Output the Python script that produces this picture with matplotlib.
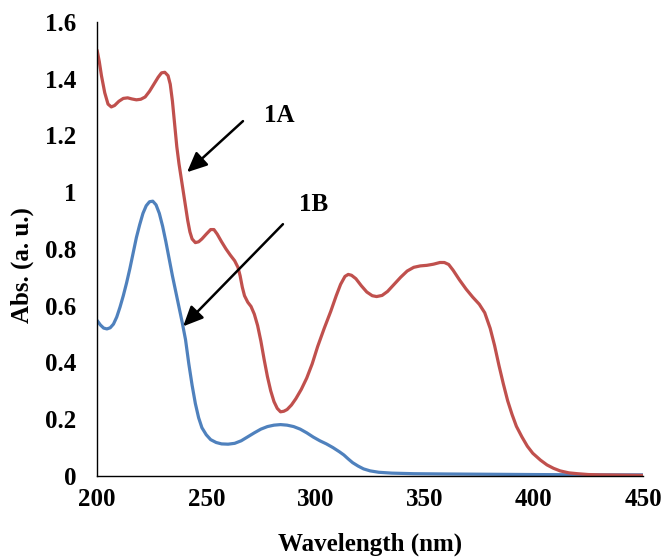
import matplotlib.pyplot as plt

# 1A (red) spectrum
wl_a = [200, 201, 202, 203.5, 205, 206.5, 208, 210, 212, 214, 216, 218, 220, 222,
        224, 226, 228, 229.5, 231, 232.5, 233.5, 234.5, 235.5, 236.5, 237.5, 238.5,
        239.5, 240.5, 241.5, 242.5, 243.5, 245, 246.5, 248, 250, 252, 253.5, 255,
        257, 259, 261, 263, 264.5, 265.5, 266.5, 267.5, 269, 270.5, 272, 273.5, 275,
        276.5, 278, 279.5, 281, 282.5, 284, 285.5, 287, 289, 291, 293.5, 296, 298.5,
        301, 304, 307, 309.5, 311.5, 313.5, 315, 316.5, 318.5, 321, 323.5, 326, 328,
        330.5, 333, 336, 339, 342, 345, 348, 351, 354, 357, 359, 361, 363, 366, 369,
        372, 375, 377.5, 380, 382, 384, 386, 388, 390, 392, 394.5, 397, 399.5, 403,
        406, 409, 412, 416, 420, 425, 430, 440, 450]
abs_a = [1.50, 1.46, 1.41, 1.35, 1.31, 1.30, 1.305, 1.32, 1.33, 1.332, 1.328, 1.325,
         1.327, 1.335, 1.355, 1.38, 1.405, 1.42, 1.422, 1.41, 1.38, 1.32, 1.24, 1.16,
         1.10, 1.05, 1.00, 0.95, 0.90, 0.86, 0.835, 0.822, 0.825, 0.835, 0.852, 0.868,
         0.868, 0.852, 0.825, 0.80, 0.778, 0.758, 0.735, 0.705, 0.665, 0.635, 0.612,
         0.597, 0.57, 0.53, 0.475, 0.41, 0.35, 0.30, 0.262, 0.238, 0.226, 0.228,
         0.234, 0.25, 0.272, 0.305, 0.345, 0.395, 0.456, 0.52, 0.58, 0.635, 0.675,
         0.703, 0.71, 0.707, 0.695, 0.67, 0.648, 0.635, 0.632, 0.636, 0.65, 0.675,
         0.70, 0.722, 0.735, 0.74, 0.742, 0.746, 0.752, 0.752, 0.745, 0.725, 0.69,
         0.658, 0.63, 0.605, 0.575, 0.52, 0.46, 0.39, 0.325, 0.265, 0.217, 0.175,
         0.138, 0.105, 0.08, 0.056, 0.039, 0.027, 0.018, 0.011, 0.008, 0.005, 0.004,
         0.003, 0.002]

# 1B (blue) spectrum
wl_b = [200, 201.5, 203, 204.5, 206, 207.5, 209, 210.5, 212, 213.5, 215, 216.5, 218,
        219.5, 221, 222.5, 224, 225.5, 227, 228.5, 230, 231.5, 233, 234.5, 236,
        237.5, 239, 240.5, 242, 243.5, 245, 246.5, 248, 250, 252, 254.5, 257, 260,
        263, 266, 269, 272, 275, 278, 281, 284, 287, 290, 293, 296, 299, 302, 305,
        308, 311, 313, 315, 317, 319.5, 322, 325, 329, 335, 345, 360, 380, 400, 425,
        450]
abs_b = [0.548, 0.532, 0.521, 0.518, 0.522, 0.535, 0.56, 0.595, 0.635, 0.68, 0.73,
         0.785, 0.84, 0.885, 0.925, 0.952, 0.966, 0.968, 0.955, 0.925, 0.88, 0.825,
         0.765, 0.705, 0.65, 0.595, 0.54, 0.48, 0.395, 0.32, 0.255, 0.205, 0.17,
         0.145, 0.128, 0.118, 0.113, 0.112, 0.115, 0.124, 0.138, 0.152, 0.165, 0.174,
         0.179, 0.181, 0.179, 0.174, 0.165, 0.152, 0.137, 0.124, 0.113, 0.10, 0.085,
         0.074, 0.06, 0.047, 0.035, 0.025, 0.018, 0.013, 0.01, 0.008, 0.007, 0.006,
         0.005, 0.004, 0.004]

y_ticks = [0, 0.2, 0.4, 0.6, 0.8, 1.0, 1.2, 1.4, 1.6]
y_labels = ['0', '0.2', '0.4', '0.6', '0.8', '1', '1.2', '1.4', '1.6']
x_ticks = [200, 250, 300, 350, 400, 450]

plt.rcParams['font.family'] = ['Liberation Serif', 'DejaVu Serif']
plt.rcParams['font.weight'] = 'bold'

fig = plt.figure(figsize=(6.65, 5.58), dpi=100)
ax = fig.add_axes([0.146, 0.147, 0.821, 0.814])

ax.plot(wl_b, abs_b, color='#4F81BD', lw=2.3, solid_capstyle='round',
        solid_joinstyle='round')
ax.plot(wl_a, abs_a, color='#C0504D', lw=2.3, solid_capstyle='round',
        solid_joinstyle='round')

ax.set_xlim(200, 450)
ax.set_ylim(0, 1.6)
ax.set_xticks(x_ticks)
ax.set_yticks(y_ticks)
ax.set_yticklabels(y_labels)
ax.tick_params(length=0, labelsize=18)
ax.tick_params(axis='y', pad=15)
ax.tick_params(axis='x', pad=9)

for s in ['top', 'right']:
    ax.spines[s].set_visible(False)
for s in ['left', 'bottom']:
    ax.spines[s].set_linewidth(1.0)

ax.set_xlabel('Wavelength (nm)', fontsize=18, fontweight='bold')
ax.set_ylabel('Abs. (a. u.)', fontsize=18, fontweight='bold')
ax.xaxis.set_label_coords(0.5, -0.125)
ax.yaxis.set_label_coords(-0.115, 0.465)

arrow = dict(arrowstyle='-|>,head_length=0.55,head_width=0.25', color='black',
             lw=1.8, mutation_scale=22, shrinkA=0, shrinkB=0)
ax.annotate('', xy=(241.2, 1.07), xytext=(266.8, 1.25), arrowprops=arrow)
ax.annotate('', xy=(239.4, 0.527), xytext=(285.1, 0.887), arrowprops=arrow)
ax.text(283.3, 1.27, '1A', fontsize=18, fontweight='bold', ha='center', va='center')
ax.text(299.3, 0.958, '1B', fontsize=18, fontweight='bold', ha='center', va='center')

fig.savefig('out.png', dpi=100)
